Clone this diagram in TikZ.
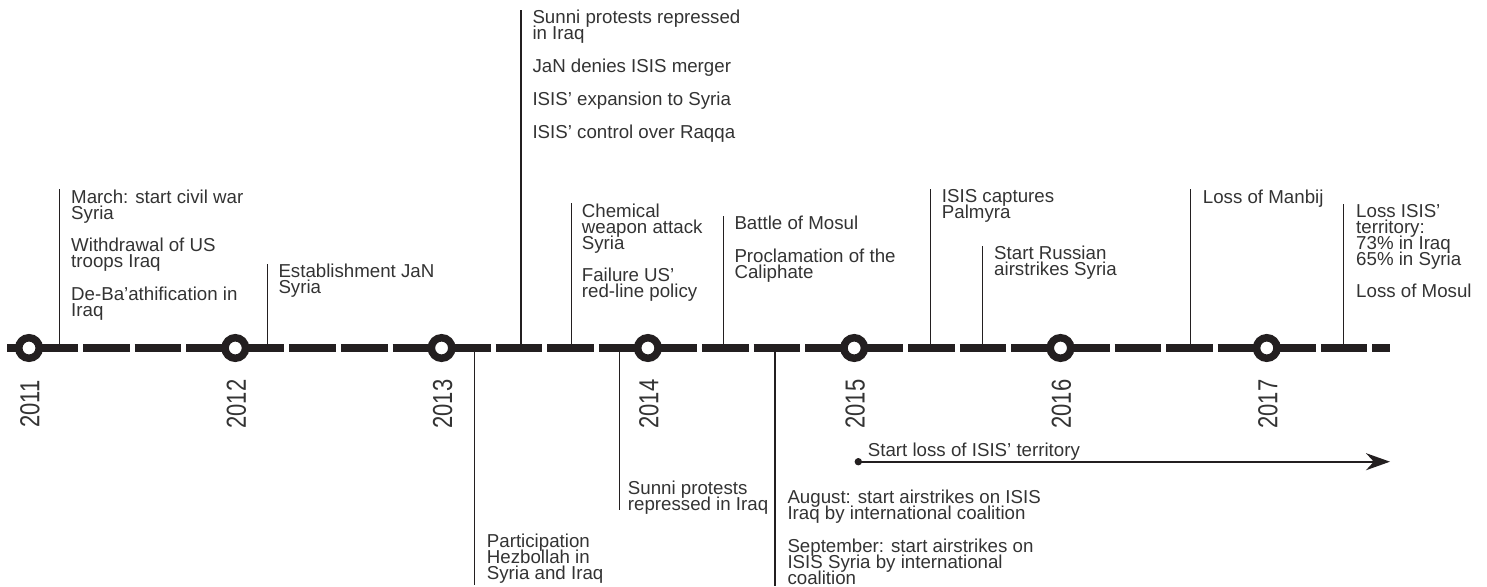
\documentclass[tikz,border=0pt]{standalone}
\usepackage{fontspec}
\setmainfont{Liberation Sans}
\usepackage{graphicx}
\usetikzlibrary{arrows.meta}

\definecolor{tlink}{HTML}{231F20}
\definecolor{tltext}{HTML}{333333}

\tikzset{
  event/.style={anchor=north west, inner sep=0pt, align=left, text=tltext,
    font={\fontsize{18.7}{16}\selectfont\lineskiplimit-20pt\relax}},
  tick/.style={draw=tlink, line width=1.4pt},
  axis/.style={draw=tlink, line width=8pt, dash pattern=on 46.575pt off 5pt, dash phase=27.075pt},
  ring/.style={circle, draw=tlink, fill=white, line width=7.5pt, minimum size=20.5pt, inner sep=0pt},
  yearlabel/.style={rotate=90, inner sep=0pt, text=tltext, font=\fontsize{22}{22}\selectfont},
  trend/.style={draw=tlink, line width=2pt, -{Stealth[length=24pt, width=17pt]}}
}

\begin{document}
\begin{tikzpicture}[x=1pt, y=-1pt]
  \useasboundingbox (0,0) rectangle (1487,586);

  \coordinate (axs) at (7,348);
  \coordinate (axe) at (1390,348);
  \draw [axis] (axs) -- (axe);

  % above the axis
  \coordinate (civa) at (59.3,348);
  \node [event] (civ) at (71,189.3) {March: start civil war\\Syria\\[16.8pt]Withdrawal of US\\troops Iraq\\[16.8pt]De-Ba'athification in\\Iraq};
  \draw [tick] (civa) -- (civa |- civ.north);

  \coordinate (jana) at (267.3,348);
  \node [event] (jan) at (278.3,263.9) {Establishment JaN\\Syria};
  \draw [tick] (jana) -- (jana |- jan.north);

  \coordinate (suna) at (521,348);
  \node [event] (sun) at (532.3,9.9) {Sunni protests repressed\\in Iraq\\[16.8pt]JaN denies ISIS merger\\[16.8pt]ISIS' expansion to Syria\\[16.8pt]ISIS' control over Raqqa};
  \draw [tick] (suna) -- (suna |- sun.north);

  \coordinate (chema) at (571.7,348);
  \node [event] (chem) at (581.7,203.3) {Chemical\\weapon attack\\Syria\\[16.8pt]Failure US'\\red-line policy};
  \draw [tick] (chema) -- (chema |- chem.north);

  \coordinate (mosa) at (723.3,348);
  \node [event] (mos) at (734.3,215.9) {Battle of Mosul\\[16.8pt]Proclamation of the\\Caliphate};
  \draw [tick] (mosa) -- (mosa |- mos.north);

  \coordinate (pala) at (930.7,348);
  \node [event] (pal) at (941.7,189.3) {ISIS captures\\Palmyra};
  \draw [tick] (pala) -- (pala |- pal.north);

  \coordinate (rusa) at (982.3,348);
  \node [event] (rus) at (994,245.9) {Start Russian\\airstrikes Syria};
  \draw [tick] (rusa) -- (rusa |- rus.north);

  \coordinate (mana) at (1190.7,348);
  \node [event] (man) at (1202.7,189.3) {Loss of Manbij};
  \draw [tick] (mana) -- (mana |- man.north);

  \coordinate (lossa) at (1343.3,348);
  \node [event] (loss) at (1356,203.9) {Loss ISIS'\\territory:\\73\% in Iraq\\65\% in Syria\\[16.8pt]Loss of Mosul};
  \draw [tick] (lossa) -- (lossa |- loss.north);

  % below the axis
  \coordinate (heza) at (474.3,348);
  \coordinate (hezb) at (474.3,585);
  \node [event] (hez) at (486.7,533.9) {Participation\\Hezbollah in\\Syria and Iraq};
  \draw [tick] (heza) -- (hezb);

  \coordinate (sunba) at (619.3,348);
  \coordinate (sunbb) at (619.3,510);
  \node [event] (sunb) at (627.7,480.6) {Sunni protests\\repressed in Iraq};
  \draw [tick] (sunba) -- (sunbb);

  \coordinate (aira) at (775,348);
  \coordinate (airb) at (775,586);
  \node [event] (air) at (787.3,489.6) {August: start airstrikes on ISIS\\Iraq by international coalition\\[16.8pt]September: start airstrikes on\\ISIS Syria by international\\coalition};
  \draw [tick] (aira) -- (airb);

  % years
  \foreach \yr [count=\i from 0] in {2011,...,2017} {
    \node [ring] (y\yr) at ({29+206.3*\i},348) {};
    \node [yearlabel] (l\yr) at ({30+206.3*\i},404) {\scalebox{1}[1.25]{\yr}};
  }

  \coordinate (trs) at (858.3,461.7);
  \coordinate (tre) at (1390,461.7);
  \fill [tlink] (trs) circle (3.7);
  \draw [trend] (trs) -- (tre);
  \node [event, anchor=base west] (trl) at (867.7,456.7) {Start loss of ISIS' territory};
\end{tikzpicture}
\end{document}
